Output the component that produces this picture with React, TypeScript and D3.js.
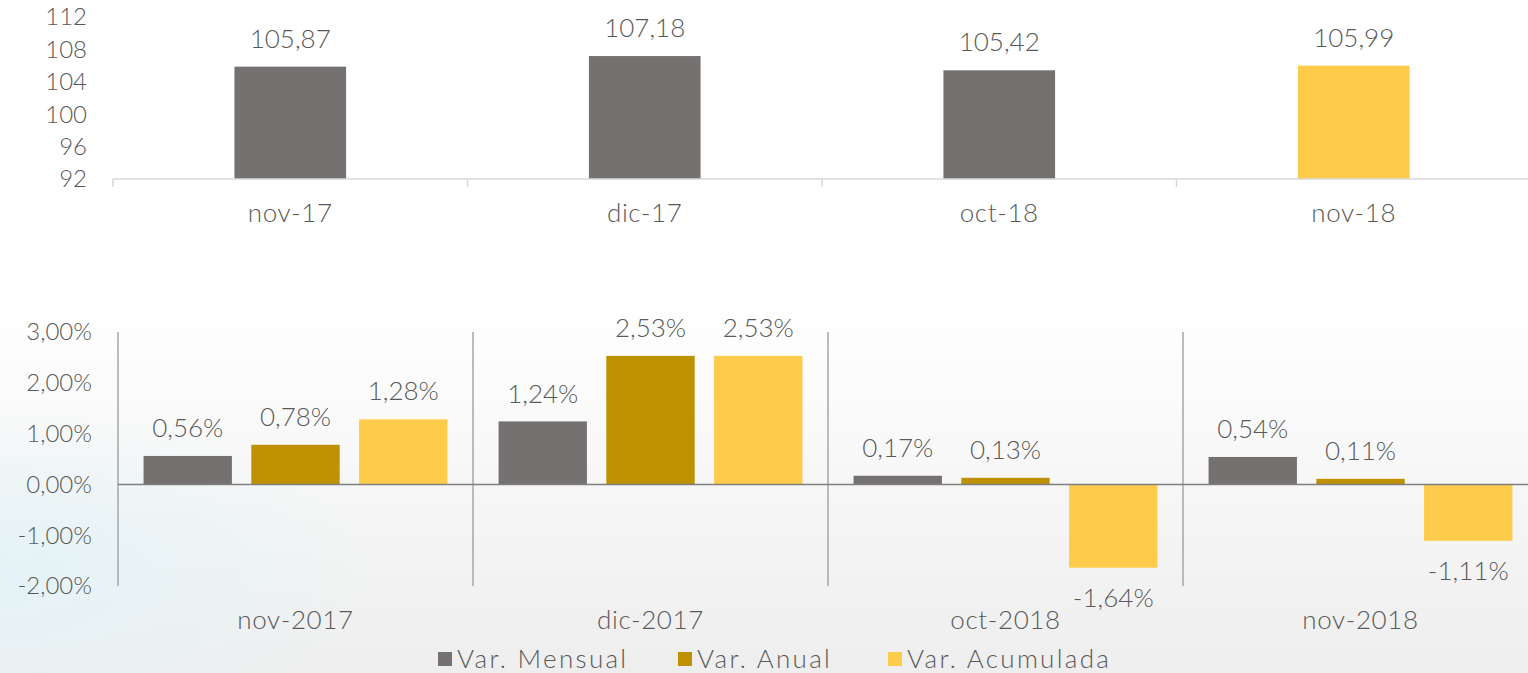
import React, { useEffect, useRef } from "react";
import * as d3 from "d3";

// top chart: index level
const indexMonths = ["nov-17", "dic-17", "oct-18", "nov-18"];
const indexValues = [105.87, 107.18, 105.42, 105.99];
const indexTicks = [92, 96, 100, 104, 108, 112];

// bottom chart: variations (%)
const varMonths = ["nov-2017", "dic-2017", "oct-2018", "nov-2018"];
const seriesNames = ["Var. Mensual", "Var. Anual", "Var. Acumulada"];
const varMensual = [0.56, 1.24, 0.17, 0.54];
const varAnual = [0.78, 2.53, 0.13, 0.11];
const varAcumulada = [1.28, 2.53, -1.64, -1.11];
const varTicks = [-2, -1, 0, 1, 2, 3];

const GRAY = "#767171";
const GOLD = "#BF9000";
const YELLOW = "#FFCB4A";
const TEXT = "#595959";
const FONT = "Lato, 'Open Sans', sans-serif";

const fmt = (v: number, digits: number) => v.toFixed(digits).replace(".", ",");

export default function App() {
  const ref = useRef<SVGSVGElement>(null);

  useEffect(() => {
    const svg = d3.select(ref.current);
    svg.selectAll("*").remove();
    const width = 1528;
    const height = 673;

    // background gradients
    const defs = svg.append("defs");
    const lg = defs.append("linearGradient").attr("id", "bg").attr("x1", 0).attr("y1", 0).attr("x2", 0).attr("y2", 1);
    lg.append("stop").attr("offset", "0.45").attr("stop-color", "#ffffff");
    lg.append("stop").attr("offset", "1").attr("stop-color", "#eeeeee");
    const rg = defs.append("radialGradient").attr("id", "tint").attr("cx", 0).attr("cy", 0.85).attr("r", 0.25);
    rg.append("stop").attr("offset", "0").attr("stop-color", "#e2f3f7").attr("stop-opacity", 0.9);
    rg.append("stop").attr("offset", "1").attr("stop-color", "#e2f3f7").attr("stop-opacity", 0);
    svg.append("rect").attr("width", width).attr("height", height).attr("fill", "url(#bg)");
    svg.append("rect").attr("width", width).attr("height", height).attr("fill", "url(#tint)");

    // ---------- top chart ----------
    const xTop = d3.scaleBand().domain(indexMonths).range([113, 1531]).padding(0);
    const yTop = d3.scaleLinear().domain([92, 112]).range([179, 17]);
    const topBarW = xTop.bandwidth() * 0.315;
    const top = svg.append("g").attr("font-family", FONT).attr("font-weight", 300).attr("fill", TEXT);

    top.selectAll("text.ytick")
      .data(indexTicks)
      .enter()
      .append("text")
      .attr("x", 87)
      .attr("y", d => yTop(d))
      .attr("dy", "0.35em")
      .attr("text-anchor", "end")
      .attr("font-size", 24)
      .text(d => d);

    top.selectAll("rect")
      .data(indexValues)
      .enter()
      .append("rect")
      .attr("x", (d, i) => xTop(indexMonths[i])! + (xTop.bandwidth() - topBarW) / 2)
      .attr("y", d => yTop(d))
      .attr("width", topBarW)
      .attr("height", d => yTop(92) - yTop(d))
      .attr("fill", (d, i) => (i === indexValues.length - 1 ? YELLOW : GRAY));

    top.append("line")
      .attr("x1", 113).attr("x2", width)
      .attr("y1", yTop(92)).attr("y2", yTop(92))
      .attr("stroke", "#d9d9d9").attr("stroke-width", 1.5);
    top.selectAll("line.tk")
      .data(indexMonths)
      .enter()
      .append("line")
      .attr("x1", d => xTop(d)!).attr("x2", d => xTop(d)!)
      .attr("y1", yTop(92)).attr("y2", yTop(92) + 8)
      .attr("stroke", "#d9d9d9").attr("stroke-width", 1.5);

    top.selectAll("text.val")
      .data(indexValues)
      .enter()
      .append("text")
      .attr("x", (d, i) => xTop(indexMonths[i])! + xTop.bandwidth() / 2)
      .attr("y", d => yTop(d) - 28)
      .attr("dy", "0.35em")
      .attr("text-anchor", "middle")
      .attr("font-size", 26)
      .text(d => fmt(d, 2));

    top.selectAll("text.cat")
      .data(indexMonths)
      .enter()
      .append("text")
      .attr("x", d => xTop(d)! + xTop.bandwidth() / 2)
      .attr("y", 213)
      .attr("dy", "0.35em")
      .attr("text-anchor", "middle")
      .attr("font-size", 26)
      .attr("letter-spacing", 0.6)
      .text(d => d);

    // ---------- bottom chart ----------
    const seriesValues = [varMensual, varAnual, varAcumulada];
    const colors = d3.scaleOrdinal<string, string>().domain(seriesNames).range([GRAY, GOLD, YELLOW]);
    const x0 = d3.scaleBand().domain(varMonths).range([118, 1538]).padding(0);
    const inset = x0.bandwidth() * 0.072;
    const x1 = d3.scaleBand().domain(seriesNames).range([inset, x0.bandwidth() - inset]).paddingInner(0.18);
    const y = d3.scaleLinear().domain([-2, 3]).range([586, 332]);
    const bot = svg.append("g").attr("font-family", FONT).attr("font-weight", 300).attr("fill", TEXT);

    bot.selectAll("text.ytick")
      .data(varTicks)
      .enter()
      .append("text")
      .attr("x", 92)
      .attr("y", d => y(d))
      .attr("dy", "0.35em")
      .attr("text-anchor", "end")
      .attr("font-size", 24)
      .text(d => fmt(d, 2) + "%");

    bot.selectAll("line.sep")
      .data(varMonths)
      .enter()
      .append("line")
      .attr("x1", d => x0(d)!).attr("x2", d => x0(d)!)
      .attr("y1", y(3)).attr("y2", y(-2))
      .attr("stroke", "#a6a6a6").attr("stroke-width", 1.5);

    const rows = varMonths.flatMap((m, i) =>
      seriesNames.map((s, j) => ({ month: m, series: s, value: seriesValues[j][i] }))
    );

    bot.selectAll("rect")
      .data(rows)
      .enter()
      .append("rect")
      .attr("x", d => x0(d.month)! + x1(d.series)!)
      .attr("y", d => y(Math.max(0, d.value)))
      .attr("width", x1.bandwidth())
      .attr("height", d => Math.abs(y(d.value) - y(0)))
      .attr("fill", d => colors(d.series));

    bot.append("line")
      .attr("x1", 118).attr("x2", width)
      .attr("y1", y(0)).attr("y2", y(0))
      .attr("stroke", "#7f7f7f").attr("stroke-width", 1.5);

    bot.selectAll("text.val")
      .data(rows)
      .enter()
      .append("text")
      .attr("x", d => x0(d.month)! + x1(d.series)! + x1.bandwidth() / 2)
      .attr("y", d => (d.value >= 0 ? y(d.value) - 28 : y(d.value) + 30))
      .attr("dy", "0.35em")
      .attr("text-anchor", "middle")
      .attr("font-size", 26)
      .text(d => fmt(d.value, 2) + "%");

    bot.selectAll("text.cat")
      .data(varMonths)
      .enter()
      .append("text")
      .attr("x", d => x0(d)! + x0.bandwidth() / 2)
      .attr("y", 620)
      .attr("dy", "0.35em")
      .attr("text-anchor", "middle")
      .attr("font-size", 26)
      .attr("letter-spacing", 0.6)
      .text(d => d);

    // legend
    const legendX = [438, 678, 888];
    const legend = bot.selectAll("g.leg")
      .data(seriesNames)
      .enter()
      .append("g")
      .attr("transform", (d, i) => `translate(${legendX[i]}, 659)`);
    legend.append("rect")
      .attr("x", 0).attr("y", -7)
      .attr("width", 14).attr("height", 14)
      .attr("fill", d => colors(d));
    legend.append("text")
      .attr("x", 19)
      .attr("dy", "0.35em")
      .attr("font-size", 26)
      .attr("letter-spacing", 2.3)
      .text(d => d);
  }, []);

  return (
    <div style={{ position: "absolute", left: 0, top: 0 }}>
      <svg ref={ref} width={1528} height={673} style={{ display: "block" }} />
    </div>
  );
}
